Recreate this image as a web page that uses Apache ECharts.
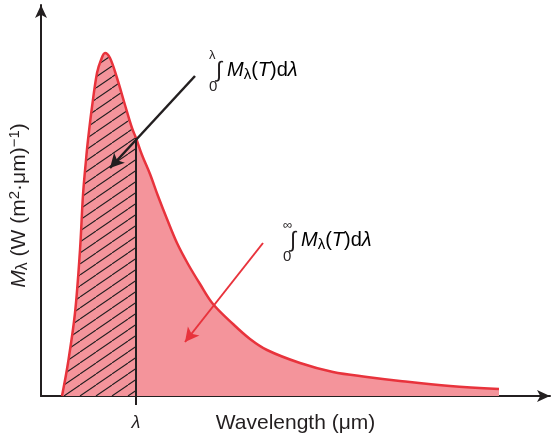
<!DOCTYPE html>
<html>
<head>
<meta charset="utf-8">
<script src="https://cdn.jsdelivr.net/npm/echarts@6/dist/echarts.min.js"></script>
<style>
  html, body { margin: 0; padding: 0; background: #fff; }
  #chart { width: 554px; height: 439px; }
</style>
</head>
<body>
<div id="chart"></div>
<script>
// curve (arbitrary units: wavelength, exitance)
var wavelength = [21, 27, 34, 39, 42, 45, 47, 51, 56, 60, 64, 69, 76, 84, 91, 95, 101, 109, 117, 126, 136, 147, 159, 172, 192, 209, 226, 259, 292, 326, 359, 409, 458];
var exitance   = [0, 33, 83, 146, 201, 236, 256, 289, 323, 336, 343, 338, 318, 291, 268, 258, 241, 222, 200, 177, 153, 132, 112, 92, 72, 57, 46, 33, 24, 19, 15, 10, 7];
var lambdaX = 95;
var xMax = 509, yMax = 391;

var ink = '#231f20';
var red = '#e8333c';
var pink = '#f4949b';

function valueAt(x) {
  for (var i = 1; i < wavelength.length; i++) {
    if (wavelength[i] >= x) {
      var t = (x - wavelength[i - 1]) / (wavelength[i] - wavelength[i - 1]);
      return exitance[i - 1] + t * (exitance[i] - exitance[i - 1]);
    }
  }
  return 0;
}

var curve = wavelength.map(function (x, i) { return [x, exitance[i]]; });
var lambdaTop = valueAt(lambdaX);
var leftPart = curve.filter(function (p) { return p[0] < lambdaX; });
leftPart.push([lambdaX, lambdaTop]);

// hatch pattern
var pc = document.createElement('canvas');
pc.width = 16; pc.height = 11;
var ctx = pc.getContext('2d');
ctx.strokeStyle = ink;
ctx.lineWidth = 1.1;
[-16, 0, 16].forEach(function (dx) {
  ctx.beginPath();
  ctx.moveTo(dx, 11);
  ctx.lineTo(dx + 16, 0);
  ctx.stroke();
});

var chart = echarts.init(document.getElementById('chart'));

function rich(size) {
  var f = 'Liberation Sans';
  return {
    i: { fontStyle: 'italic', fontSize: size, color: ink, fontFamily: f, lineHeight: 24, verticalAlign: 'middle' },
    n: { fontSize: size, color: ink, fontFamily: f, lineHeight: 24, verticalAlign: 'middle' },
    s: { fontSize: size - 5, color: ink, fontFamily: f, lineHeight: 24, verticalAlign: 'bottom' },
    p: { fontSize: size - 6, color: ink, fontFamily: f, lineHeight: 24, verticalAlign: 'top' }
  };
}

function integral(x, y, upper) {
  return [
    { type: 'text', left: x, top: y - 13, style: { text: '∫', font: '22px Liberation Sans', fill: ink } },
    { type: 'text', left: x - 7, top: y - 24, style: { text: upper, font: '13px Liberation Sans', fill: ink } },
    { type: 'text', left: x - 7, top: y + 6, style: { text: '0', font: '15px Liberation Sans', fill: ink } },
    { type: 'text', left: x + 11, top: y - 13, style: {
        text: '{i|M}{s|λ}{n|(}{i|T}{n|)d}{i|λ}', rich: rich(20) } }
  ];
}

var lineBase = { type: 'line', smooth: 0.35, symbol: 'none' };

chart.setOption({
  animation: false,
  grid: { left: 41, right: 4, top: 5, bottom: 43, outerBoundsMode: 'none', containLabel: false },
  xAxis: {
    type: 'value', min: 0, max: xMax,
    splitLine: { show: false },
    axisLine: { lineStyle: { color: ink, width: 2 }, symbol: ['none', 'arrow'], symbolSize: [9, 13] },
    axisTick: { show: true, customValues: [lambdaX], length: 9, inside: false, lineStyle: { color: ink, width: 2 } },
    axisLabel: { customValues: [lambdaX], formatter: function () { return 'λ'; }, margin: 18,
      fontStyle: 'italic', fontSize: 18, color: ink, fontFamily: 'Liberation Sans' },
    name: 'Wavelength (μm)', nameLocation: 'middle', nameGap: 17, nameMoveOverlap: false,
    nameTextStyle: { fontSize: 21, color: ink, fontFamily: 'Liberation Sans' }
  },
  yAxis: {
    type: 'value', min: 0, max: yMax,
    splitLine: { show: false },
    axisTick: { show: false },
    axisLabel: { show: false },
    axisLine: { lineStyle: { color: ink, width: 2 }, symbol: ['none', 'arrow'], symbolSize: [9, 13] },
    name: '{i|M}{s|λ}{n| (W (m}{p|2}{n|·μm)}{p|−1}{n|)}', nameLocation: 'middle', nameRotate: 90, nameGap: 10,
    nameTextStyle: { rich: rich(21), padding: [0, 10, 0, 0] }
  },
  series: [
    Object.assign({}, lineBase, { data: curve, lineStyle: { width: 0 }, areaStyle: { color: pink, opacity: 1 }, z: 1 }),
    Object.assign({}, lineBase, { data: leftPart, lineStyle: { width: 0 },
      areaStyle: { color: { image: pc, repeat: 'repeat' }, opacity: 1 }, z: 2 }),
    Object.assign({}, lineBase, {
      data: curve, lineStyle: { color: red, width: 2.5 }, z: 3,
      markLine: {
        silent: true, symbol: ['none', 'arrow'], symbolSize: [11, 14], label: { show: false },
        data: [
          [{ coord: [154, 320], lineStyle: { color: ink, width: 2.5, type: 'solid' } }, { coord: [69, 228] }],
          [{ coord: [222, 153], lineStyle: { color: red, width: 2, type: 'solid' } }, { coord: [144, 54] }]
        ]
      }
    }),
    {
      type: 'line', data: [[lambdaX, 0], [lambdaX, lambdaTop]], symbol: 'none',
      lineStyle: { color: ink, width: 2 }, z: 4
    }
  ],
  graphic: integral(216, 73, 'λ').concat(integral(290, 243, '∞'))
});
</script>
</body>
</html>
